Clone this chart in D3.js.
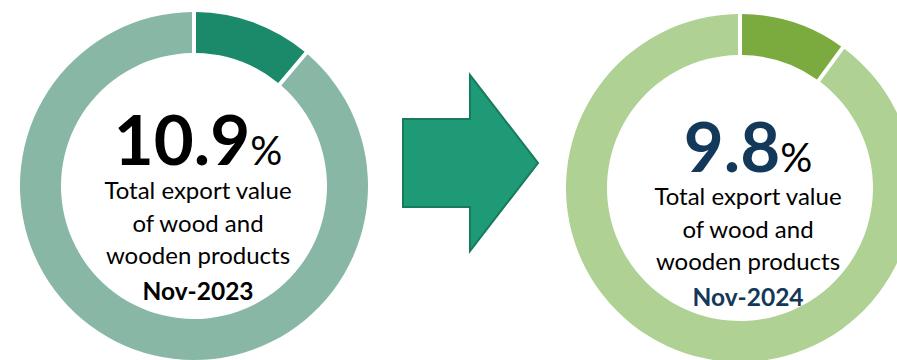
<!DOCTYPE html>
<html><head><meta charset="utf-8">
<script src="https://cdn.jsdelivr.net/npm/d3@7"></script>
<style>html,body{margin:0;padding:0;background:#fff;overflow:hidden}</style>
</head><body>
<svg id="c" width="897" height="360"></svg>
<script>
const periods = ["Nov-2023", "Nov-2024"];
const shareValues = [10.9, 9.8];
const restValues = [89.1, 90.2];
const valueLabels = ["10.9", "9.8"];
const descLines = ["Total export value", "of wood and", "wooden products"];
const darkColors = ["#1a8a6b", "#7bab3f"];
const lightColors = ["#88b8a5", "#afd193"];
const numberColors = ["#000000", "#12385a"];
const periodColors = ["#000000", "#12385a"];

const svg = d3.select("#c");
const font = "Lato, 'Open Sans', sans-serif";

const centers = [[194, 186], [740, 188]];
const textCx = [198, 748];
const outerR = 174, innerR = 133;

const pie = d3.pie().sort(null).value(d => d.v).padAngle(0.02);
const arc = d3.arc().innerRadius(innerR).outerRadius(outerR).padRadius(200);

periods.forEach((p, i) => {
  const g = svg.append("g").attr("transform", `translate(${centers[i][0]},${centers[i][1]})`);
  const data = [{k: "share", v: shareValues[i]}, {k: "rest", v: restValues[i]}];
  g.selectAll("path").data(pie(data)).join("path")
    .attr("d", arc)
    .attr("fill", d => d.data.k === "share" ? darkColors[i] : lightColors[i]);

  const t = svg.append("g").attr("transform", `translate(${textCx[i]},0)`);
  const base = i === 0 ? 165 : 172;
  const num = t.append("text").attr("y", base).attr("text-anchor", "middle")
    .attr("font-family", font);
  num.append("tspan").attr("font-size", 69).attr("font-weight", 700)
    .attr("fill", numberColors[i]).text(valueLabels[i]);
  num.append("tspan").attr("font-size", 40).attr("fill", "#000").text("%");

  const lineBase = i === 0 ? 199 : 205;
  descLines.forEach((ln, j) => {
    t.append("text").attr("y", lineBase + j * 32.5).attr("text-anchor", "middle")
      .attr("font-family", font).attr("font-size", 24).attr("fill", "#000").text(ln);
  });
  t.append("text").attr("y", lineBase + 101).attr("text-anchor", "middle")
    .attr("font-family", font).attr("font-size", 24.5).attr("font-weight", 700)
    .attr("fill", periodColors[i]).text(p);
});

// arrow
const ax = d3.scaleLinear().domain([0, 1]).range([403, 538]);
const ay = d3.scaleLinear().domain([0, 1]).range([75, 251]);
const arrowPts = [[0, 0.25], [0.496, 0.25], [0.496, 0], [1, 0.5], [0.496, 1], [0.496, 0.75], [0, 0.75]];
svg.append("path")
  .attr("d", d3.line().x(d => ax(d[0])).y(d => ay(d[1]))(arrowPts) + "Z")
  .attr("fill", "#1f9a77").attr("stroke", "#177a5c").attr("stroke-width", 2);
</script>
</body></html>
